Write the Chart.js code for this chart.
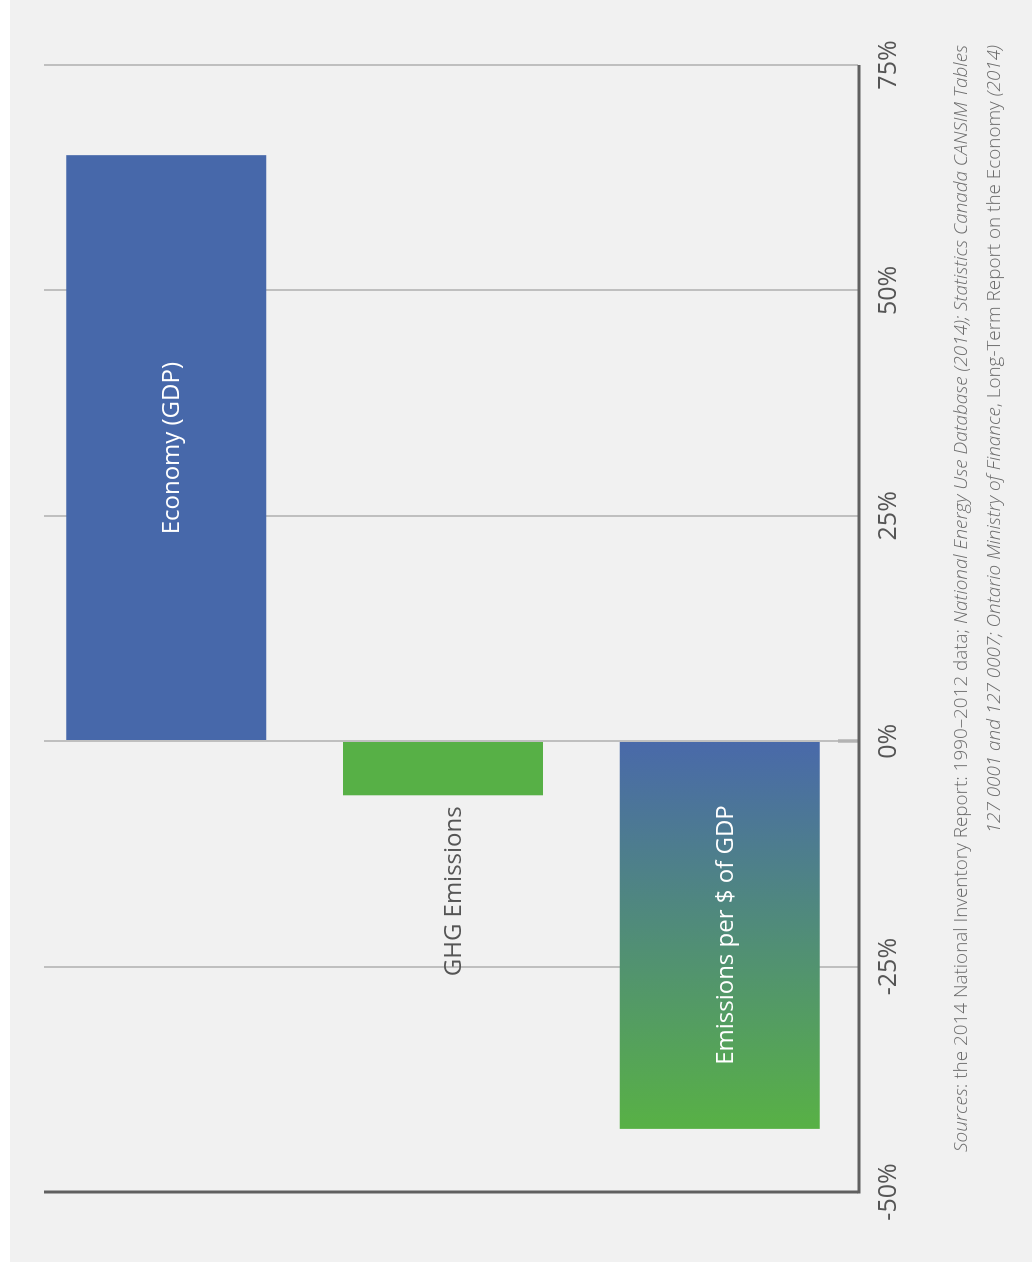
<!DOCTYPE html>
<html>
<head>
<meta charset="utf-8">
<title>Economy, GHG emissions and emissions intensity, 1990–2012</title>
<script src="https://cdn.jsdelivr.net/npm/chart.js@4/dist/chart.umd.min.js"></script>
<style>
  html, body { margin: 0; padding: 0; background: #ffffff; }
  body { width: 1032px; height: 1264px; position: relative; overflow: hidden; }
  #panel { position: absolute; left: 10px; top: 0; width: 1022px; height: 1262px; background: #f1f1f1; }
  /* the chart is laid out as a horizontal bar chart and turned a quarter turn */
  #turn {
    position: absolute; left: 0; top: 0; width: 1264px; height: 1032px;
    transform-origin: 0 0; transform: translateY(1264px) rotate(-90deg);
  }
  #turn canvas { position: absolute; left: 0; top: 0; }
  #sources {
    position: absolute; right: 45px; top: 944px;
    font-family: "Open Sans", "DejaVu Sans", sans-serif; font-weight: 300;
    font-size: 18px; line-height: 33px; color: #6d6d6d;
    text-align: right; white-space: nowrap;
  }
  #sources .line { display: block; }
  #sources .line span.m { display: inline-block; }
</style>
</head>
<body>
<div id="panel"></div>
<div id="turn">
  <canvas id="chart" width="1264" height="1032"></canvas>
  <div id="sources">
    <div class="line"><span class="m" id="src1"><i>Sources</i>: the 2014 National Inventory Report: 1990–2012 data; <i>National Energy Use Database (2014); Statistics Canada CANSIM Tables</i></span></div>
    <div class="line"><span class="m" id="src2"><i>127 0001 and 127 0007; Ontario Ministry of Finance</i>, Long-Term Report on the Economy <i>(2014)</i></span></div>
  </div>
</div>
<script>
// Percentage change, 1990–2012
const categories = ['Economy (GDP)', 'GHG Emissions', 'Emissions per $ of GDP'];
const changePct = [65, -6, -43];
const tickValues = [-50, -25, 0, 25, 50, 75];
const tickLabels = ['-50%', '-25%', '0%', '25%', '50%', '75%'];

const BLUE = '#4768aa';
const GREEN = '#57b046';
const LIGHT_GRID = '#bfbfbf';
const DARK_AXIS = '#606060';
const FONT = '"Open Sans", "DejaVu Sans", sans-serif';

function barFill(ctx) {
  const i = ctx.dataIndex;
  if (i === 0) return BLUE;
  if (i === 1) return GREEN;
  const chart = ctx.chart;
  const x = chart.scales && chart.scales.x;
  if (!chart.chartArea || !x) return BLUE;
  const from = x.getPixelForValue(0);
  const to = x.getPixelForValue(changePct[i]);
  const g = chart.ctx.createLinearGradient(from, 0, to, 0);
  g.addColorStop(0, '#4969aa');
  g.addColorStop(1, '#58b145');
  return g;
}

// grid lines and axis frame drawn from the value scale
const frame = {
  id: 'frame',
  beforeDatasetsDraw(chart) {
    const { ctx, chartArea: a, scales: { x } } = chart;
    const top = a.top + 16;
    ctx.save();
    tickValues.forEach(v => {
      if (v === 0) return;
      const px = Math.round(x.getPixelForValue(v));
      ctx.beginPath();
      ctx.strokeStyle = v === tickValues[0] ? DARK_AXIS : LIGHT_GRID;
      ctx.lineWidth = v === tickValues[0] ? 3 : 2;
      ctx.moveTo(px, top);
      ctx.lineTo(px, a.bottom);
      ctx.stroke();
    });
    ctx.restore();
  },
  afterDatasetsDraw(chart) {
    const { ctx, chartArea: a, scales: { x } } = chart;
    const top = a.top + 16;
    const zero = Math.round(x.getPixelForValue(0));
    ctx.save();
    ctx.beginPath();
    ctx.strokeStyle = LIGHT_GRID;
    ctx.lineWidth = 2;
    ctx.moveTo(zero, top);
    ctx.lineTo(zero, a.bottom);
    ctx.stroke();
    ctx.beginPath();
    ctx.strokeStyle = '#b3b3b3';
    ctx.lineWidth = 3.5;
    ctx.moveTo(zero, a.bottom - 20);
    ctx.lineTo(zero, a.bottom);
    ctx.stroke();
    // value axis line
    ctx.beginPath();
    ctx.strokeStyle = DARK_AXIS;
    ctx.lineWidth = 3;
    ctx.moveTo(Math.round(x.getPixelForValue(tickValues[0])) - 1.5, a.bottom + 1);
    ctx.lineTo(Math.round(x.getPixelForValue(tickValues[tickValues.length - 1])), a.bottom + 1);
    ctx.stroke();
    ctx.restore();
  }
};

// category names written on or beside each bar
const barNames = {
  id: 'barNames',
  afterDraw(chart) {
    const { ctx } = chart;
    const bars = chart.getDatasetMeta(0).data;
    ctx.save();
    ctx.font = '24px ' + FONT;
    ctx.textBaseline = 'middle';
    bars.forEach((bar, i) => {
      if (i === 1) {
        ctx.fillStyle = '#555555';
        ctx.textAlign = 'right';
        ctx.fillText(categories[i], bar.x - 11, bar.y + 11);
      } else {
        ctx.fillStyle = '#ffffff';
        ctx.textAlign = 'center';
        ctx.fillText(categories[i], (bar.x + bar.base) / 2, bar.y + 6);
      }
    });
    ctx.restore();
  }
};

new Chart(document.getElementById('chart'), {
  type: 'bar',
  data: {
    labels: categories,
    datasets: [{
      data: changePct,
      backgroundColor: barFill,
      borderWidth: 0,
      barPercentage: 0.723,
      categoryPercentage: 1
    }]
  },
  options: {
    indexAxis: 'y',
    responsive: false,
    devicePixelRatio: 1,
    animation: false,
    layout: { padding: { left: 72, right: 65, top: 28, bottom: 0 } },
    plugins: { legend: { display: false }, tooltip: { enabled: false } },
    scales: {
      x: {
        type: 'linear',
        position: 'bottom',
        min: -50,
        max: 75,
        afterBuildTicks(scale) { scale.ticks = tickValues.map(v => ({ value: v })); },
        afterFit(scale) { scale.height = 174; },
        grid: { display: false, drawTicks: false },
        border: { display: false },
        ticks: {
          padding: 16,
          color: '#555555',
          font: { family: FONT, size: 25 },
          maxRotation: 0,
          callback: (v) => tickLabels[tickValues.indexOf(v)]
        }
      },
      y: {
        type: 'category',
        display: false,
        offset: true
      }
    }
  },
  plugins: [frame, barNames]
});

// fit the source note to its line length
(function fitSources() {
  const s1 = document.getElementById('src1');
  const box = document.getElementById('sources');
  const target = 1107;
  const size = 18 * target / s1.offsetWidth;
  box.style.fontSize = size.toFixed(2) + 'px';
})();
</script>
</body>
</html>
